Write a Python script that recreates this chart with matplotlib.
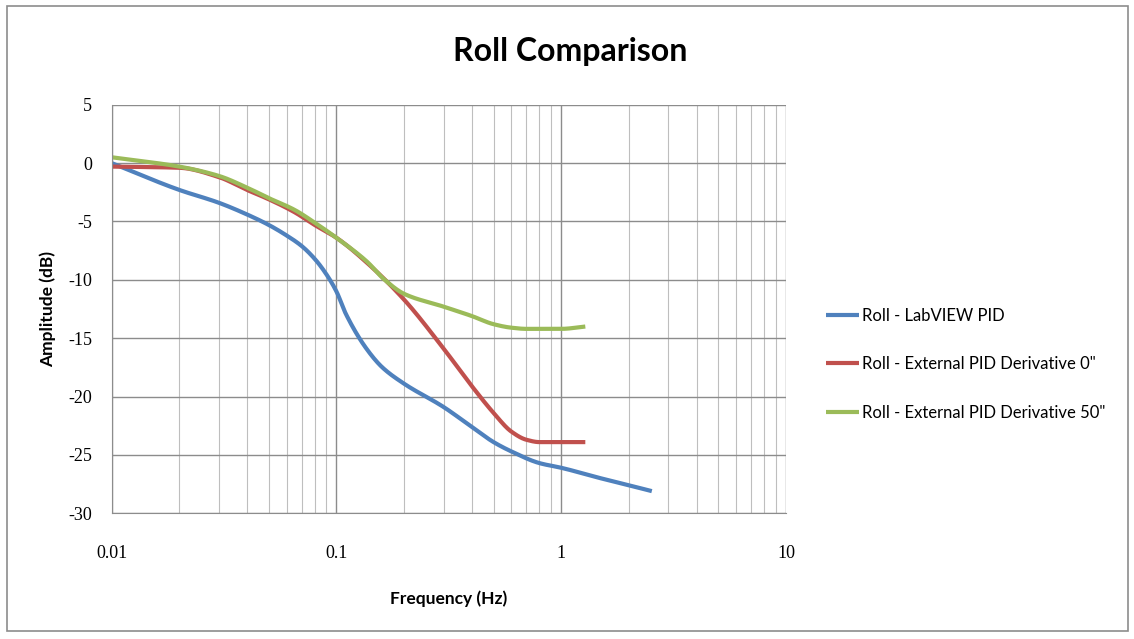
import numpy as np
import matplotlib
matplotlib.use("Agg")
import matplotlib.pyplot as plt
from matplotlib.patches import Rectangle

plt.rcParams["axes.unicode_minus"] = False

# frequency response readings (Hz, dB)
freq_labview = [0.01, 0.02, 0.03, 0.04, 0.05, 0.06, 0.07, 0.08, 0.09, 0.1, 0.11, 0.136, 0.16, 0.2, 0.3, 0.4, 0.5, 0.6, 0.8, 1.0, 1.5, 2.0, 2.53]
amp_labview = [0.0, -2.3, -3.4, -4.4, -5.3, -6.2, -7.1, -8.2, -9.5, -11.0, -12.9, -15.9, -17.5, -18.9, -20.9, -22.6, -23.9, -24.7, -25.7, -26.1, -27.0, -27.6, -28.1]

freq_ext0 = [0.01, 0.02, 0.03, 0.04, 0.05, 0.065, 0.08, 0.1, 0.136, 0.2, 0.3, 0.4, 0.5, 0.6, 0.7, 0.8, 1.0, 1.28]
amp_ext0 = [-0.3, -0.4, -1.2, -2.3, -3.1, -4.2, -5.3, -6.4, -8.5, -11.7, -15.9, -19.1, -21.4, -23.0, -23.7, -23.9, -23.9, -23.9]

freq_ext50 = [0.01, 0.02, 0.03, 0.04, 0.05, 0.065, 0.08, 0.1, 0.136, 0.164, 0.2, 0.3, 0.4, 0.5, 0.6, 0.7, 0.8, 1.0, 1.28]
amp_ext50 = [0.5, -0.3, -1.1, -2.1, -3.0, -4.0, -5.1, -6.4, -8.4, -10.0, -11.2, -12.3, -13.1, -13.8, -14.1, -14.2, -14.2, -14.2, -14.0]

series = [
    ("Roll - LabVIEW PID", freq_labview, amp_labview, "#4F81BD"),
    ("Roll - External PID Derivative 0\"", freq_ext0, amp_ext0, "#C0504D"),
    ("Roll - External PID Derivative 50\"", freq_ext50, amp_ext50, "#9BBB59"),
]


def smooth(xs, ys, n=30):
    # monotone cubic (Fritsch-Carlson) through the points, in log-frequency space
    x = np.log10(xs)
    y = np.asarray(ys, float)
    h = np.diff(x)
    d = np.diff(y) / h
    m = np.zeros_like(y)
    m[0], m[-1] = d[0], d[-1]
    for i in range(1, len(y) - 1):
        if d[i - 1] * d[i] > 0:
            w1 = 2 * h[i] + h[i - 1]
            w2 = h[i] + 2 * h[i - 1]
            m[i] = (w1 + w2) / (w1 / d[i - 1] + w2 / d[i])
    outx, outy = [], []
    t = np.linspace(0, 1, n, endpoint=False)
    for i in range(len(h)):
        h00 = 2 * t ** 3 - 3 * t ** 2 + 1
        h10 = t ** 3 - 2 * t ** 2 + t
        h01 = -2 * t ** 3 + 3 * t ** 2
        h11 = t ** 3 - t ** 2
        outx.extend(x[i] + t * h[i])
        outy.extend(h00 * y[i] + h10 * h[i] * m[i] + h01 * y[i + 1] + h11 * h[i] * m[i + 1])
    outx.append(x[-1])
    outy.append(y[-1])
    return 10 ** np.array(outx), np.array(outy)


sans = "Lato"
serif = "Liberation Serif"

fig = plt.figure(figsize=(11.34, 6.39), dpi=100)
fig.patches.append(Rectangle((0.006, 0.012), 0.989, 0.979, transform=fig.transFigure,
                             fill=False, edgecolor="#8C8C8C", linewidth=1.2))
ax = fig.add_axes([0.0985, 0.1967, 0.5946, 0.6394])

for label, f, a, c in series:
    sx, sy = smooth(f, a)
    ax.plot(sx, sy, color=c, linewidth=3, label=label, solid_capstyle="butt")

ax.set_xscale("log")
ax.set_xlim(0.01, 10)
ax.set_ylim(-30, 5)
ax.set_yticks(np.arange(-30, 6, 5))
ax.set_xticks([0.01, 0.1, 1, 10])
ax.set_xticklabels(["0.01", "0.1", "1", "10"])
ax.grid(True, which="major", color="#8C8C8C", linewidth=1)
ax.grid(True, which="minor", axis="x", color="#BEBEBE", linewidth=0.8)
ax.set_axisbelow(True)
for s in ["top", "right"]:
    ax.spines[s].set_visible(False)
for s in ["left", "bottom"]:
    ax.spines[s].set_color("#8C8C8C")
ax.tick_params(which="both", length=0)
ax.tick_params(axis="y", pad=14)
ax.tick_params(axis="x", pad=23)
for t in ax.get_xticklabels() + ax.get_yticklabels():
    t.set_fontfamily(serif)
    t.set_fontsize(13)

ax.set_xlabel("Frequency (Hz)", fontfamily=sans, fontweight="bold", fontsize=12.5, labelpad=20)
ax.set_ylabel("Amplitude (dB)", fontfamily=sans, fontweight="bold", fontsize=12.5, labelpad=9)
fig.text(0.503, 0.92, "Roll Comparison", ha="center", va="center",
         fontfamily=sans, fontweight="bold", fontsize=23)

leg = ax.legend(loc="center left", bbox_to_anchor=(1.059, 0.365), frameon=False,
                prop={"family": sans, "size": 12}, handlelength=2.0, handletextpad=0.15,
                labelspacing=1.95, borderpad=0, borderaxespad=0)

fig.savefig("out.png", dpi=100)
